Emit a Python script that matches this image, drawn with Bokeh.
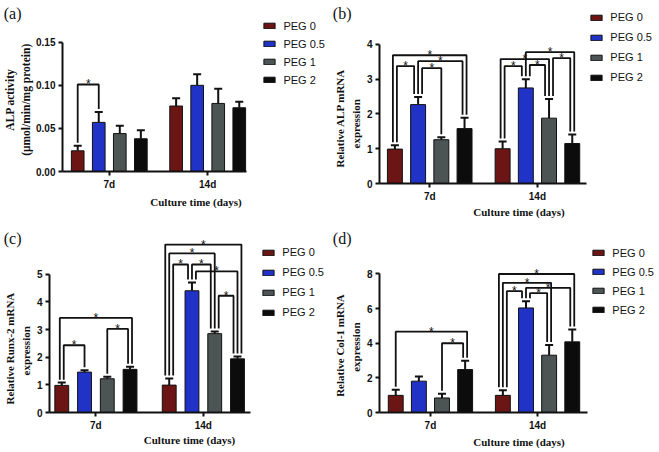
import numpy as np
from bokeh.plotting import figure
from bokeh.models import (Range1d, FixedTicker, Legend, LegendItem, Title, LinearAxis,
                          Whisker, TeeHead, NumeralTickFormatter, ColumnDataSource)
from bokeh.layouts import row, column
from bokeh.core.properties import value
from bokeh.embed import file_html
from bokeh.resources import INLINE

# ---------------- data ----------------
groups = ["7d", "14d"]
series = ["PEG 0", "PEG 0.5", "PEG 1", "PEG 2"]
colors = ["#6c1515", "#2132c6", "#4c5454", "#0c0c0c"]

# (a) ALP activity
a_mean_7d = [0.024, 0.057, 0.044, 0.038]
a_mean_14d = [0.076, 0.100, 0.079, 0.074]
a_sd_7d = [0.006, 0.012, 0.009, 0.010]
a_sd_14d = [0.009, 0.013, 0.017, 0.007]
a_sig = [(0, 0, 1, 0.101)]

# (b) Relative ALP mRNA
b_mean_7d = [0.99, 2.27, 1.26, 1.58]
b_mean_14d = [1.00, 2.75, 1.88, 1.15]
b_sd_7d = [0.11, 0.22, 0.07, 0.31]
b_sd_14d = [0.21, 0.25, 0.55, 0.26]
b_sig = [(0, 0, 3, 3.69), (0, 0, 1, 3.38), (0, 1, 3, 3.52), (0, 1, 2, 3.32),
         (1, 0, 2, 3.58), (1, 0, 1, 3.38), (1, 1, 3, 3.78), (1, 1, 2, 3.41), (1, 2, 3, 3.61)]

# (c) Relative Runx-2 mRNA
c_mean_7d = [0.98, 1.46, 1.22, 1.56]
c_mean_14d = [0.99, 4.40, 2.85, 1.94]
c_sd_7d = [0.10, 0.07, 0.07, 0.09]
c_sd_14d = [0.24, 0.30, 0.08, 0.08]
c_sig = [(0, 0, 3, 3.42), (0, 0, 1, 2.43), (0, 2, 3, 3.02),
         (1, 0, 3, 6.07), (1, 0, 2, 5.75), (1, 0, 1, 5.35), (1, 1, 2, 5.35),
         (1, 1, 3, 5.10), (1, 2, 3, 4.22)]

# (d) Relative Col-1 mRNA
d_mean_7d = [0.99, 1.81, 0.84, 2.48]
d_mean_14d = [0.99, 6.04, 3.31, 4.08]
d_sd_7d = [0.32, 0.27, 0.25, 0.51]
d_sd_14d = [0.29, 0.38, 0.59, 0.72]
d_sig = [(0, 0, 3, 4.67), (0, 2, 3, 4.00),
         (1, 0, 3, 8.0), (1, 0, 2, 7.49), (1, 0, 1, 7.01), (1, 1, 3, 7.2), (1, 1, 2, 6.9)]

# ---------------- layout ----------------
W, H = 329, 225
CW, CH = 330.0, 226.0
SX, SY = W / CW, H / CH

SANS = "Liberation Sans"
SERIF = "Liberation Serif"


def panel(letter, ylab1, ylab2, mean7, mean14, sd7, sd14, sig, ytop, ystep, fmt, lay):
    (ax, axend, y0, ytick_px, c0, c1, bs, bw, leg_x, leg_r0, leg_p,
     ylc1, ylc2, len1, len2, yfs, xstand) = lay
    L = ax * SX
    R = W
    T = 2 * SY
    B = y0 * SY
    fw, fh = R - L, B - T
    k = (c1 - c0) * SX
    xs = -(c0 - ax) * SX / k
    xe = xs + fw / k
    ppu = (y0 - ytick_px) * SY / ytop
    ye = fh / ppu

    p = figure(width=W, height=H, output_backend="svg", toolbar_location=None,
               x_range=Range1d(xs, xe), y_range=Range1d(0, ye),
               min_border_left=int(round(L)), min_border_right=0,
               min_border_top=int(round(T)), min_border_bottom=int(round(H - B)))
    p.outline_line_color = None
    p.xgrid.visible = False
    p.ygrid.visible = False

    means = [mean7, mean14]
    sds = [sd7, sd14]
    off = bs / (c1 - c0)
    width = bw / (c1 - c0)

    def bx(g, i):
        return g + (i - 1.5) * off

    items = []
    for i, s in enumerate(series):
        src = ColumnDataSource(dict(x=[bx(0, i), bx(1, i)], top=[mean7[i], mean14[i]],
                                    up=[mean7[i] + sd7[i], mean14[i] + sd14[i]]))
        r = p.vbar(x="x", top="top", bottom=0, width=width, source=src,
                   fill_color=colors[i], line_color="#111111", line_width=1)
        p.add_layout(Whisker(source=src, base="x", lower="top", upper="up",
                             line_color="#111111", line_width=2,
                             upper_head=TeeHead(size=8, line_width=2, line_color="#111111"),
                             lower_head=None))
        items.append(LegendItem(label=s, renderers=[r]))

    # significance brackets
    legsp = 4.0 * SX / k
    gap = 3.0 / ppu
    legs = {}
    for j, (g, a, b, lvl) in enumerate(sig):
        legs.setdefault((g, a), []).append(((1, -lvl), j, "a"))
        legs.setdefault((g, b), []).append(((0, lvl), j, "b"))
    legoff = {}
    for key, lst in legs.items():
        lst.sort()
        n = len(lst)
        for rnk, (_, j, side) in enumerate(lst):
            legoff[(j, side)] = (rnk - (n - 1) / 2) * legsp
    mx, my, sx_, sy_ = [], [], [], []
    for j, (g, a, b, lvl) in enumerate(sig):
        xa = bx(g, a) + legoff[(j, "a")]
        xb = bx(g, b) + legoff[(j, "b")]
        ya = means[g][a] + sds[g][a] + gap
        yb = means[g][b] + sds[g][b] + gap
        mx.append([xa, xa, xb, xb])
        my.append([ya, lvl, lvl, yb])
        sx_.append((xa + xb) / 2)
        sy_.append(lvl)
    p.multi_line(xs=mx, ys=my, line_color="#111111", line_width=1.8)
    p.text(x=sx_, y=sy_, text=["*"] * len(sx_), text_align="center",
           text_baseline="alphabetic", text_font=value(SANS), text_font_size="12px",
           text_color="#111111", y_offset=0)

    # axes
    p.xaxis.ticker = FixedTicker(ticks=[0, 1])
    p.xaxis.major_label_overrides = {0: groups[0], 1: groups[1]}
    p.xaxis.bounds = (xs, (axend - c0) * SX / k)
    p.xaxis.axis_label = "Culture time (days)"
    p.yaxis.ticker = FixedTicker(ticks=list(np.arange(0, ytop + 1e-9, ystep)))
    p.yaxis.formatter = NumeralTickFormatter(format=fmt)
    p.yaxis.bounds = (0, ytop)
    for axis in (p.xaxis, p.yaxis):
        axis.axis_line_width = 2
        axis.axis_line_color = "#111111"
        axis.major_tick_line_width = 2
        axis.major_tick_line_color = "#111111"
        axis.major_tick_in = 0
        axis.major_tick_out = 4
        axis.minor_tick_line_color = None
        axis.major_label_text_font = SANS
        axis.major_label_text_font_style = "bold"
        axis.major_label_text_font_size = "10px"
        axis.major_label_text_color = "#111111"
        axis.major_label_standoff = 3
        axis.axis_label_text_font = SERIF
        axis.axis_label_text_font_style = "bold"
        axis.axis_label_text_font_size = "11px"
        axis.axis_label_text_color = "#111111"
        axis.axis_label_standoff = 0
    p.xaxis.axis_label_standoff = xstand

    # y-axis title (two lines) as side titles, start-anchored so the centre can be placed
    for txt, ln, yc, sd in ((ylab2, len2, ylc2, 4), (ylab1, len1, ylc1, 0)):
        p.add_layout(Title(text=txt, align="left", offset=B - yc * SY - ln / 2, standoff=sd,
                           text_font=SERIF, text_font_style="bold", text_font_size=yfs,
                           text_color="#111111"), "left")

    # panel letter, drawn as the single label of a bare outer axis
    yl = round((B - 13 * SY) / ppu, 3)
    lax = LinearAxis(ticker=FixedTicker(ticks=[yl]), major_label_overrides={yl: "(" + letter + ")"},
                     axis_line_color=None, major_tick_line_color=None, minor_tick_line_color=None,
                     major_tick_in=0, major_tick_out=0, major_label_standoff=-20,
                     major_label_text_font=SERIF, major_label_text_font_size="16px",
                     major_label_text_color="#111111")
    p.add_layout(lax, "left")

    # legend
    rowh = 14
    spacing = int(round(leg_p * SY - rowh))
    top = leg_r0 * SY - rowh / 2
    bottom = top + 4 * rowh + 3 * spacing
    legend = Legend(items=items, location=(leg_x * SX - L, B - bottom), orientation="vertical",
                    glyph_width=14, glyph_height=7, label_height=rowh, label_standoff=7,
                    spacing=spacing, padding=0, margin=0,
                    border_line_color=None, background_fill_alpha=0,
                    label_text_font=SANS, label_text_font_size="11px", label_text_color="#111111")
    p.add_layout(legend)
    return p


# lay: axis_x, axis_end, y0, ytop_px, c0, c1, bar_spacing, bar_width, legend_x, legend_row0,
#      legend_pitch, ytitle_center1, ytitle_center2, ytitle_len1, ytitle_len2, ytitle_font,
#      xtitle_standoff
pa = panel("a", "ALP activity", "(μmol/min/mg protein)", a_mean_7d, a_mean_14d, a_sd_7d, a_sd_14d,
           a_sig, 0.15, 0.05, "0.00",
           (56, 245, 172, 42, 104, 205, 21.6, 13, 257, 26, 18.4, 100, 100, 62, 112, "11.5px", 3))
pb = panel("b", "Relative ALP mRNA", "expression", b_mean_7d, b_mean_14d, b_sd_7d, b_sd_14d,
           b_sig, 4, 1, "0",
           (50, 258, 184.3, 44.3, 100.4, 208.5, 23.3, 15, 261, 18, 20.0, 111, 121, 114, 56, "11px", 1))
pc = panel("c", "Relative Runx-2 mRNA", "expression", c_mean_7d, c_mean_14d, c_sd_7d, c_sd_14d,
           c_sig, 5, 1, "0",
           (47, 250, 188.3, 49, 93.9, 202.5, 23, 14, 260, 28, 19.7, 117, 123, 126, 56, "11px", 0))
pd = panel("d", "Relative Col-1 mRNA", "expression", d_mean_7d, d_mean_14d, d_sd_7d, d_sd_14d,
           d_sig, 8, 2, "0",
           (49, 258, 189, 49, 100.3, 208.2, 23.3, 15, 262, 29, 19.5, 115, 120, 116, 56, "11px", 2))

layout = column(row(column(pa), column(pb)), row(column(pc), column(pd)))
open("out.html", "w").write(file_html(layout, INLINE))
